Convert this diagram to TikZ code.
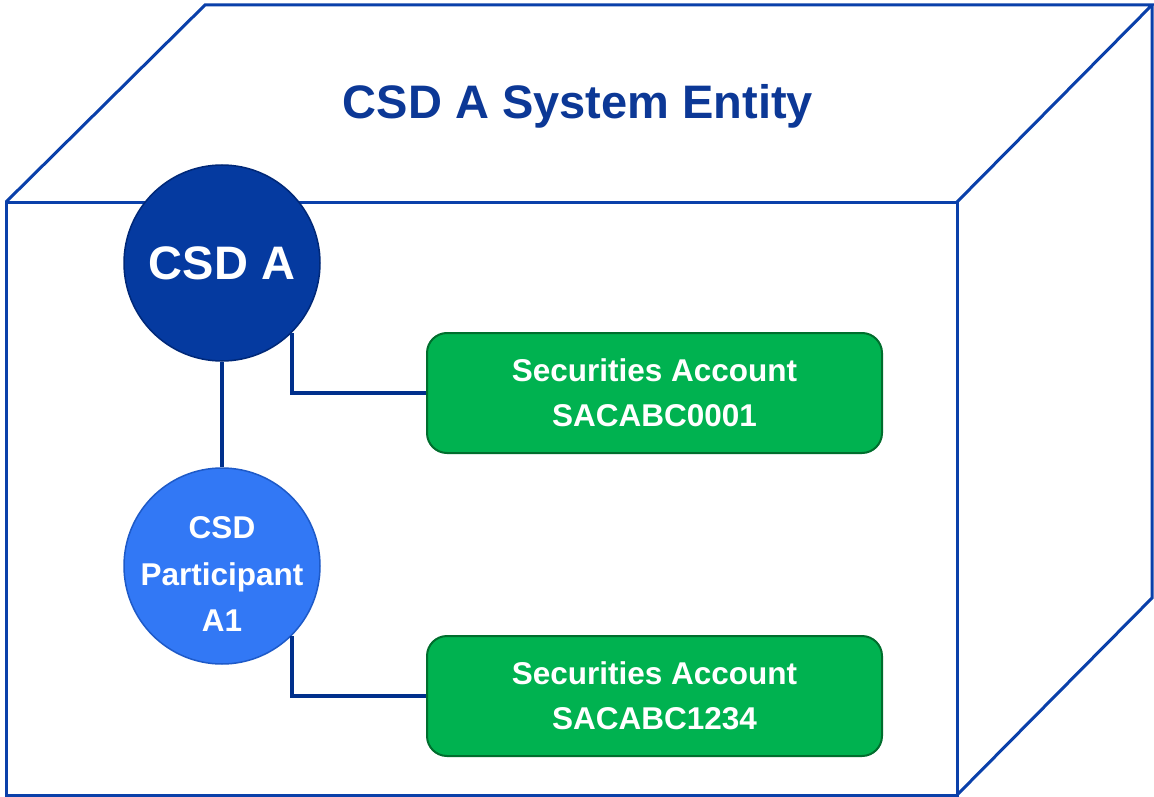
\documentclass[tikz,border=0pt]{standalone}
\usepackage{fontspec}
\setmainfont{Liberation Sans}
\definecolor{edgeblue}{RGB}{10,64,170}
\definecolor{linkblue}{RGB}{0,48,140}
\definecolor{titleblue}{RGB}{12,56,150}
\definecolor{darkcirc}{RGB}{5,58,160}
\definecolor{darkcircedge}{RGB}{0,40,120}
\definecolor{lightcirc}{RGB}{50,120,245}
\definecolor{lightcircedge}{RGB}{30,90,200}
\definecolor{acctgreen}{RGB}{0,178,80}
\definecolor{acctedge}{RGB}{0,110,45}
\tikzset{
  boxline/.style={draw=edgeblue, line width=3pt, line join=miter},
  circnode/.style={circle, minimum size=196pt, inner sep=0pt, text=white, font=\bfseries, align=center},
  acct/.style={rounded corners=20pt, minimum width=455pt, minimum height=120pt, fill=acctgreen, draw=acctedge, line width=2pt, text=white, align=center, font=\fontsize{31.5}{45}\selectfont\bfseries},
  link/.style={draw=linkblue, line width=3.5pt}
}
\begin{document}
\begin{tikzpicture}[x=1pt,y=-1pt]
\fill[white] (0,0) rectangle (1154,797);
\useasboundingbox (0,0) rectangle (1154,797);
% box
\coordinate (ftl) at (6,202);
\coordinate (ftr) at (957,202);
\coordinate (fbl) at (6,795);
\coordinate (fbr) at (957,795);
\coordinate (btl) at (205,5);
\coordinate (btr) at (1152,5);
\coordinate (bbr) at (1152,598);
\draw[boxline] (ftl) -- (ftr) -- (fbr) -- (fbl) -- cycle;
\draw[boxline] (ftl) -- (btl) -- (btr) -- (ftr);
\draw[boxline] (btr) -- (bbr) -- (fbr);
\node[text=titleblue, font=\fontsize{47}{56}\selectfont\bfseries] (title) at (578,106) {CSD A System Entity};
% nodes
\node[circnode, fill=darkcirc, draw=darkcircedge, line width=1.5pt, font=\fontsize{47}{56}\selectfont\bfseries] (csda) at (222,263) {CSD A};
\node[circnode, fill=lightcirc, draw=lightcircedge, line width=1.5pt] (part) at (222,566) {};
\node[text=white, align=center, font=\fontsize{31.5}{46.5}\selectfont\bfseries] (partlabel) at ([yshift=-8pt]part.center) {CSD\\Participant\\A1};
\node[acct] (sa1) at (654.5,393) {Securities Account\\SACABC0001};
\node[acct] (sa2) at (654.5,696) {Securities Account\\SACABC1234};
% links
\draw[link] (csda.south) -- (part.north);
\draw[link] (csda.-45) |- (sa1.west);
\draw[link] (part.-45) |- (sa2.west);
\end{tikzpicture}
\end{document}
